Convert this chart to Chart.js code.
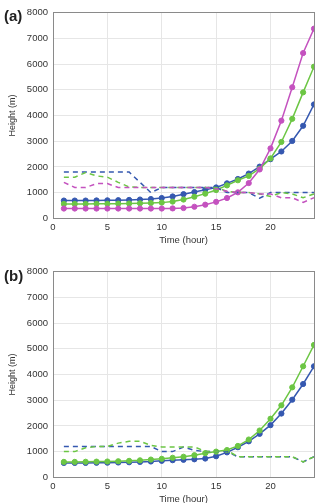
<!DOCTYPE html>
<html><head><meta charset="utf-8">
<script src="https://cdn.jsdelivr.net/npm/chart.js@4"></script>
<style>
html,body{margin:0;padding:0;background:#fff;width:319px;height:503px;overflow:hidden;position:relative;font-family:"Liberation Sans",Arial,sans-serif}
.wrap{position:absolute;left:0;width:319px;height:250px}
.lab{position:absolute;left:4px;font-weight:bold;font-size:15px;color:#222;line-height:1}
</style></head>
<body>
<div class="wrap" style="top:0"><canvas id="ca" width="319" height="250"></canvas></div>
<div class="wrap" style="top:258.6px"><canvas id="cb" width="319" height="250"></canvas></div>
<div class="lab" style="top:8px">(a)</div>
<div class="lab" style="top:268px">(b)</div>
<script>
const hours = [1,2,3,4,5,6,7,8,9,10,11,12,13,14,15,16,17,18,19,20,21,22,23,24];
const xTicks = [0,5,10,15,20];
const yTicks = [0,1000,2000,3000,4000,5000,6000,7000,8000];

// Panel (a)
const aPink  = [380,380,380,380,380,380,380,380,380,380,385,400,450,530,640,790,1010,1370,1900,2720,3800,5100,6430,7380];
const aGreen = [560,560,560,565,565,570,575,585,595,610,650,730,840,960,1100,1280,1480,1650,1930,2330,2970,3870,4900,5900];
const aBlue  = [690,690,690,695,700,705,715,730,750,790,850,940,1020,1110,1200,1360,1530,1740,2010,2300,2600,3010,3600,4430];
const aPinkDash  = [1400,1200,1200,1350,1350,1200,1200,1200,1200,1200,1200,1200,1200,1200,1150,1050,1000,1000,950,950,800,800,620,800];
const aGreenDash = [1600,1600,1780,1650,1600,1400,1220,1200,1200,1200,1200,1200,1200,1200,1200,1050,1000,1000,950,850,1000,950,800,950];
const aBlueDash  = [1800,1800,1800,1800,1800,1800,1800,1400,1000,1200,1200,1200,1200,1200,1200,1000,1000,1000,780,1000,1000,1000,1000,1000];

// Panel (b)
const bGreen = [600,600,605,610,615,625,640,660,690,720,760,800,860,940,1000,1060,1220,1470,1820,2280,2800,3500,4320,5150];
const bBlue  = [560,560,560,565,570,575,585,600,615,640,665,680,700,730,820,970,1170,1400,1690,2030,2480,3020,3630,4320];
const bGreenDash = [1000,1000,1150,1200,1200,1330,1400,1400,1240,1180,1180,1180,1180,1010,1000,1050,800,800,800,800,800,800,600,800];
const bBlueDash  = [1200,1200,1200,1200,1200,1200,1200,1200,1200,1000,1000,1180,1050,1000,1000,1000,800,800,800,800,800,800,600,800];

const PINK='#c452bf', GREEN='#6cc644', BLUE='#3558b0';
const pts = arr => arr.map((v,i)=>({x:hours[i],y:v}));
const solid = (arr,c) => ({data:pts(arr),borderColor:c,backgroundColor:c,borderWidth:1.5,pointRadius:2.6,pointBorderWidth:1,pointBackgroundColor:c,tension:0});
const dash = (arr,c) => ({data:pts(arr),borderColor:c,borderWidth:1.5,borderDash:[5,4],pointRadius:0,tension:0});

const tickFont = {family:'"Liberation Sans", Arial, sans-serif', size:9.5};
const BORDER = '#8a8a8a';
function makeChart(id, datasets){
  return new Chart(document.getElementById(id), {
    type:'line',
    data:{datasets},
    options:{
      responsive:false, animation:false, devicePixelRatio:1,
      layout:{padding:{top:12.7,right:4,left:0,bottom:0}},
      plugins:{legend:{display:false},tooltip:{enabled:false}},
      scales:{
        x:{type:'linear',min:0,max:24,position:'bottom',
          afterBuildTicks:s=>{s.ticks=xTicks.map(v=>({value:v}));},
          afterFit:s=>{s.height=31.7;},
          ticks:{font:tickFont,color:'#333',padding:3,maxRotation:0,callback:v=>String(v)},
          grid:{color:'#e6e6e6',drawTicks:false},
          border:{color:BORDER,width:1},
          title:{display:true,text:'Time (hour)',font:{family:'"Liberation Sans", Arial, sans-serif',size:9.5},color:'#333',padding:{top:0,bottom:4}}
        },
        y:{type:'linear',min:0,max:8000,position:'left',
          afterBuildTicks:s=>{s.ticks=yTicks.map(v=>({value:v}));},
          afterFit:s=>{s.width=53;},
          ticks:{font:tickFont,color:'#333',padding:5,callback:v=>String(v)},
          grid:{color:'#e6e6e6',drawTicks:false},
          border:{color:BORDER,width:1},
          title:{display:true,text:'Height (m)',font:{family:'"Liberation Sans", Arial, sans-serif',size:9},color:'#333',padding:{top:7,bottom:0}}
        },
        xTop:{type:'linear',min:0,max:24,position:'top',display:true,
          afterFit:s=>{s.height=0;},
          ticks:{display:false},grid:{display:false,drawTicks:false},border:{color:BORDER,width:1}},
        yRight:{type:'linear',min:0,max:8000,position:'right',display:true,
          afterFit:s=>{s.width=0;},
          ticks:{display:false},grid:{display:false,drawTicks:false},border:{color:BORDER,width:1}}
      }
    }
  });
}

makeChart('ca', [
  dash(aPinkDash,PINK), dash(aGreenDash,GREEN), dash(aBlueDash,BLUE),
  solid(aPink,PINK), solid(aGreen,GREEN), solid(aBlue,BLUE)
]);
makeChart('cb', [
  dash(bGreenDash,GREEN), dash(bBlueDash,BLUE),
  solid(bGreen,GREEN), solid(bBlue,BLUE)
]);
</script>
</body></html>
